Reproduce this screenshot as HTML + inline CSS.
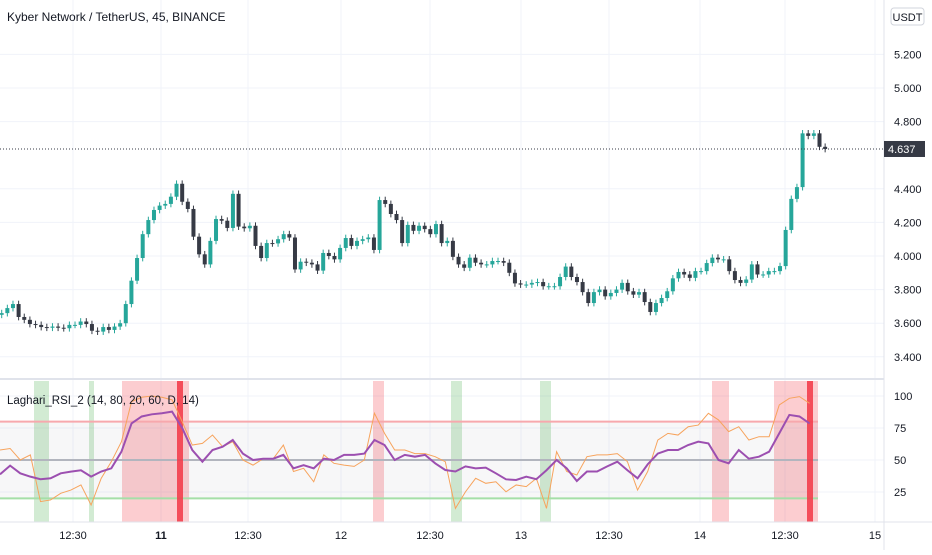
<!DOCTYPE html>
<html><head><meta charset="utf-8"><style>
body{margin:0;background:#fff;font-family:"Liberation Sans",sans-serif;}
svg text{font-family:"Liberation Sans",sans-serif;}
</style></head><body>
<svg id="c" width="932" height="550" xmlns="http://www.w3.org/2000/svg">
<rect width="932" height="550" fill="#fff"/>
<g id="grid"></g>
<g id="bands"></g>
<g id="candles"></g>
<g id="rsi"></g>
<line x1="884" y1="0" x2="884" y2="550" stroke="#e0e3eb"/>
<line x1="0" y1="379" x2="884" y2="379" stroke="#e0e3eb" stroke-width="2"/>
<line x1="0" y1="522" x2="932" y2="522" stroke="#e0e3eb"/>
<text x="7" y="21" font-size="12" fill="#131722">Kyber Network / TetherUS, 45, BINANCE</text>
<rect x="891" y="8" width="33" height="17" rx="3" fill="#fff" stroke="#d1d4dc"/>
<text x="907.5" y="21" font-size="11" text-anchor="middle" fill="#131722">USDT</text>
<text x="7" y="404" font-size="11.5" fill="#131722">Laghari_RSI_2 (14, 80, 20, 60, D, 14)</text>
<g id="axes"></g>
</svg>
<script>
const priceTicks=["5.200","5.000","4.800","4.400","4.200","4.000","3.800","3.600","3.400"];
const rsiTicks=["100","75","50","25"];
const timeLabels=["12:30","11","12:30","12","12:30","13","12:30","14","12:30","15"];
const timeX=[73,161,248,341,430,521,609,700,785,875];
const closes=[3.66,3.69,3.714,3.637,3.62,3.595,3.59,3.577,3.573,3.58,3.573,3.57,3.59,3.59,3.61,3.595,3.555,3.55,3.577,3.56,3.58,3.6,3.714,3.853,3.988,4.13,4.214,4.274,4.30,4.31,4.353,4.43,4.323,4.28,4.115,4.01,3.95,4.09,4.22,4.21,4.167,4.37,4.175,4.165,4.18,4.06,3.988,4.077,4.075,4.10,4.13,4.11,3.92,3.966,3.96,3.95,3.913,4.018,4.0,3.98,4.048,4.107,4.06,4.09,4.10,4.11,4.036,4.333,4.31,4.25,4.214,4.077,4.185,4.15,4.18,4.16,4.13,4.19,4.077,4.09,3.995,3.95,3.93,3.99,
3.96,3.95,3.95,3.97,3.97,3.96,3.90,3.837,3.83,3.83,3.84,3.845,3.82,3.82,3.82,3.875,3.937,3.875,3.845,3.785,3.72,3.785,3.80,3.76,3.78,3.80,3.84,3.79,3.77,3.785,3.726,3.667,3.72,3.75,3.79,3.867,3.905,3.89,3.87,3.91,3.91,3.958,3.99,3.98,3.98,3.91,3.857,3.84,3.86,3.95,3.89,3.89,3.91,3.91,3.94,4.155,4.34,4.41,4.73,4.715,4.73,4.65,4.637];
const rsiValues=[38.8,45.6,39.6,37,35,35.7,39.6,40.9,42,37,41,43.5,56.5,78.6,84,85.7,86.5,87.8,75,57.8,48.7,57.8,60.4,65.6,55,50,51,51,54,43.5,46,43.5,51,50,54,54,55,65.6,61.7,50,54,52.6,54,47.4,42.2,41,45,43.5,44,39.6,34.9,34.4,37,35,42,50,43.5,33.6,41,41,45,48.7,42,35.7,46.6,55,57.8,57.8,61.7,64.3,63,50,47.4,57.8,51,52.6,56.5,70.8,85.2,84,78.6];
const fastValues=[57.8,59,50,54,17.5,18.8,24,26.5,30.5,14.8,35.7,48.7,64.3,95.6,99,100,99,97,80,61.7,63,69.5,60.4,64.3,50,46,51,51,61.7,41,43.5,33,54,47.4,46,45,50,86.5,70.8,57.8,57.8,55,55,52.6,48.7,12.2,25.2,35.7,31.8,33,25.2,30.5,29.2,35.7,12.2,56.5,41,38.3,52.6,54,54,55,48.7,26.5,41,65.6,70.8,69.5,76,77.3,86.5,81.3,72.2,76,65.6,68.2,68.2,93,98.2,99.5,94.3];
const bandStart=[34,89,122,373,451,540,712,774];
const bandEnd=[49,94,189,384,462,551,729,818];
const bandKind=["buy","buy","sell","sell","buy","buy","sell","sell"];
const signalX=[180,810];

const NS="http://www.w3.org/2000/svg";
function mk(t,a,p){const e=document.createElementNS(NS,t);for(const k in a)e.setAttribute(k,a[k]);p.appendChild(e);return e;}
const py=p=>256-(p-4.0)*168;
const ry=v=>460-(v-50)*1.28;
const cx=i=>1.7+i*5.64;
const rx=i=>i*10.12;

const grid=document.getElementById('grid');
priceTicks.forEach(t=>{const y=py(parseFloat(t));
 const l=mk('line',{x1:0,x2:884,y1:y,y2:y,stroke:'#f0f3fa'},grid);
 
 });
timeX.forEach(x=>{const l=mk('line',{x1:x,x2:x,y1:0,y2:522,stroke:'#f0f3fa'},grid);
 
 });
rsiTicks.forEach(t=>{const y=ry(+t);
 const l=mk('line',{x1:0,x2:884,y1:y,y2:y,stroke:'#f0f3fa'},grid);
 
 });

const bands=document.getElementById('bands');
bandStart.forEach((s,i)=>{const r=mk('rect',{x:s,y:381,width:bandEnd[i]-s,height:141,fill:bandKind[i]==='buy'?'rgba(76,175,80,0.25)':'rgba(242,54,69,0.25)'},bands);
 
 });

const cg=document.getElementById('candles');
closes.forEach((c,i)=>{
 const o=i?closes[i-1]:c-0.01;const up=c>=o;const col=up?'#26a69a':'#363a45';
 const hi=Math.max(o,c)+0.02,lo=Math.min(o,c)-0.02;
 const x=cx(i);
 const w=mk('line',{x1:x,x2:x,y1:py(hi),y2:py(lo),stroke:col,'stroke-width':1},cg);
 
 
 const top=py(Math.max(o,c)),bot=py(Math.min(o,c));
 const b=mk('rect',{x:x-2,y:top,width:4,height:Math.max(1,bot-top),fill:col},cg);
 
 
});
const last=closes[closes.length-1];
const pl=mk('line',{x1:0,x2:884,y1:py(last),y2:py(last),stroke:'#363a45','stroke-dasharray':'1 2'},cg);



const rg=document.getElementById('rsi');
const bg=mk('rect',{x:0,y:ry(80),width:818,height:ry(20)-ry(80),fill:'rgba(120,123,134,0.06)'},rg);


[[80,'#f7a8ad'],[50,'#b2b5be'],[20,'#a5dfa8']].forEach(([v,c])=>{
 const l=mk('line',{x1:0,x2:818,y1:ry(v),y2:ry(v),stroke:c,'stroke-width':2},rg);
 
 });
signalX.forEach(x=>{const r=mk('rect',{x:x-3,y:381,width:6,height:141,fill:'#f23645',opacity:0.85},rg);
 
 });
const fp=mk('polyline',{points:fastValues.map((v,i)=>rx(i)+','+ry(v)).join(' '),fill:'none',stroke:'#f7a35c','stroke-width':1},rg);


const rp=mk('polyline',{points:rsiValues.map((v,i)=>rx(i)+','+ry(v)).join(' '),fill:'none',stroke:'#9c4fb0','stroke-width':2},rg);



const ax=document.getElementById('axes');
priceTicks.forEach(t=>{const e=mk('text',{x:894,y:py(parseFloat(t))+4,'font-size':11,fill:'#131722'},ax);e.textContent=t;
 
 });
const pb=mk('rect',{x:884,y:py(last)-8,width:41,height:16,fill:'#363a45'},ax);


const pt=mk('text',{x:888,y:py(last)+4,'font-size':11,fill:'#fff'},ax);pt.textContent=last.toFixed(3);


rsiTicks.forEach(t=>{const e=mk('text',{x:894,y:ry(+t)+4,'font-size':11,fill:'#131722'},ax);e.textContent=t;
 
 });
timeLabels.forEach((t,i)=>{const e=mk('text',{x:timeX[i],y:539,'font-size':11,'text-anchor':'middle',fill:'#131722','font-weight':t==='11'?'bold':'normal'},ax);e.textContent=t;
 
 });
</script>
</body></html>
